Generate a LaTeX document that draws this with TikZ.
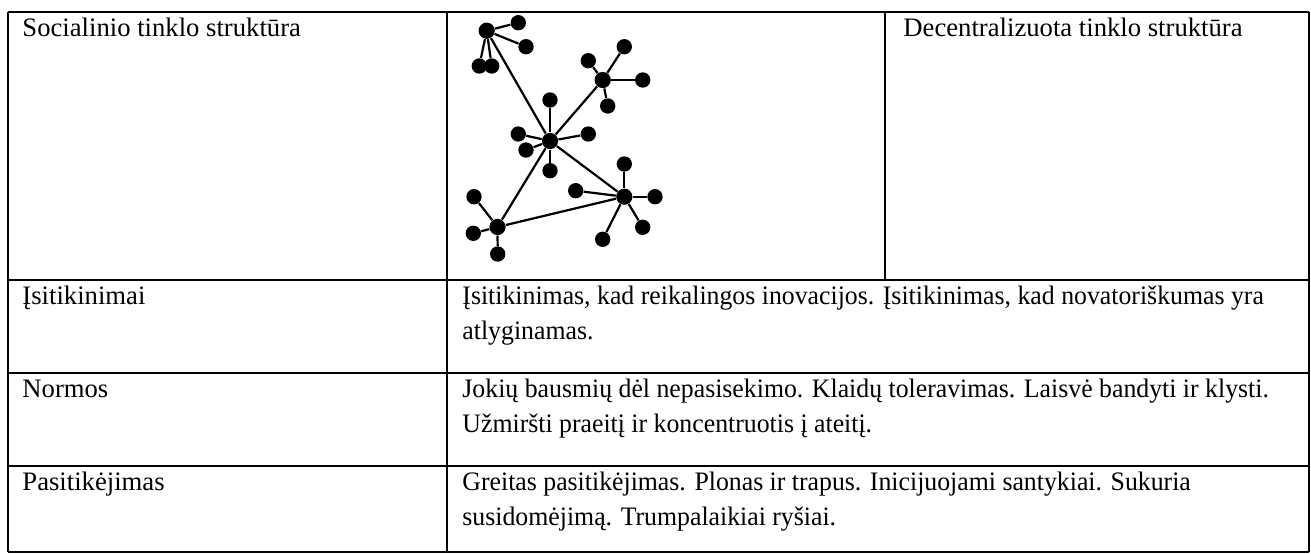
\documentclass[tikz,border=0pt]{standalone}
\usepackage{fontspec}
\setmainfont{Liberation Serif}
\newfontfamily\bodyserif[FakeStretch=0.967]{Liberation Serif}
\begin{document}
\begin{tikzpicture}[x=0.45pt,y=-0.45pt,
  rule/.style={line width=1.1pt},
  cell/.style={anchor=base west, inner sep=0pt, font=\fontsize{12}{14}\selectfont},
  body/.style={cell, font=\fontsize{12}{14}\bodyserif},
  dot/.style={circle, fill=black, inner sep=0pt, minimum size=6.9pt},
  hub/.style={dot, minimum size=7.3pt},
  link/.style={line width=1pt}]
\useasboundingbox (0,0) rectangle (1311,553);

% table rules
\draw[rule] (8,12) -- (1309,12);
\draw[rule] (8,280) -- (1309,280);
\draw[rule] (8,373) -- (1309,373);
\draw[rule] (8,466) -- (1309,466);
\draw[rule] (8,552) -- (1309,552);
\draw[rule] (8,12) -- (8,552);
\draw[rule] (447,12) -- (447,552);
\draw[rule] (885,12) -- (885,280);
\draw[rule] (1309,12) -- (1309,552);

% cell texts
\node[cell] (h1) at (22,36.5) {Socialinio tinklo struktūra};
\node[cell] (h3) at (903,36.5) {Decentralizuota tinklo struktūra};

\node[cell] (r1) at (22,304) {Įsitikinimai};
\node[body] (r1a) at (462,304) {Įsitikinimas, kad reikalingos inovacijos. Įsitikinimas, kad novatoriškumas yra};
\node[body] (r1b) at (462,339) {atlyginamas.};

\node[cell] (r2) at (22,397) {Normos};
\node[body] (r2a) at (462,397) {Jokių bausmių dėl nepasisekimo. Klaidų toleravimas. Laisvė bandyti ir klysti.};
\node[body] (r2b) at (462,432) {Užmiršti praeitį ir koncentruotis į ateitį.};

\node[cell] (r3) at (22,490) {Pasitikėjimas};
\node[body] (r3a) at (462,490) {Greitas pasitikėjimas. Plonas ir trapus. Inicijuojami santykiai. Sukuria};
\node[body] (r3b) at (462,525) {susidomėjimą. Trumpalaikiai ryšiai.};

% network: hubs and their leaves
\node[hub] (A) at (486.7,30.7) {};
\node[dot] (a1) at (518.3,22.7) {};
\node[dot] (a2) at (526,46.7) {};
\node[dot] (a3) at (479.3,66) {};
\node[dot] (a4) at (491.7,66) {};

\node[hub] (B) at (602.7,80) {};
\node[dot] (b1) at (624.3,46.7) {};
\node[dot] (b2) at (588.3,60.7) {};
\node[dot] (b3) at (642.7,80) {};
\node[dot] (b4) at (607.7,106) {};

\node[hub] (C) at (550,141) {};
\node[dot] (c1) at (550,100) {};
\node[dot] (c2) at (518.3,134) {};
\node[dot] (c3) at (526,150) {};
\node[dot] (c4) at (588.3,134) {};
\node[dot] (c5) at (550,170.7) {};

\node[hub] (D) at (497.5,227) {};
\node[dot] (d1) at (474,196.7) {};
\node[dot] (d2) at (473.3,233.3) {};
\node[dot] (d3) at (497.7,254) {};

\node[hub] (E) at (624.3,196.7) {};
\node[dot] (e1) at (624.3,164) {};
\node[dot] (e2) at (575.7,190.7) {};
\node[dot] (e3) at (655,196.7) {};
\node[dot] (e4) at (642.7,227.3) {};
\node[dot] (e5) at (602.7,239.3) {};

\foreach \h/\l in {A/a1,A/a2,A/a3,A/a4,A/C,
                   B/b1,B/b2,B/b3,B/b4,B/C,
                   C/c1,C/c2,C/c3,C/c4,C/c5,C/D,C/E,
                   D/d1,D/d2,D/d3,D/E,
                   E/e1,E/e2,E/e3,E/e4,E/e5}
  \draw[link] (\h) -- (\l);
\end{tikzpicture}
\end{document}
